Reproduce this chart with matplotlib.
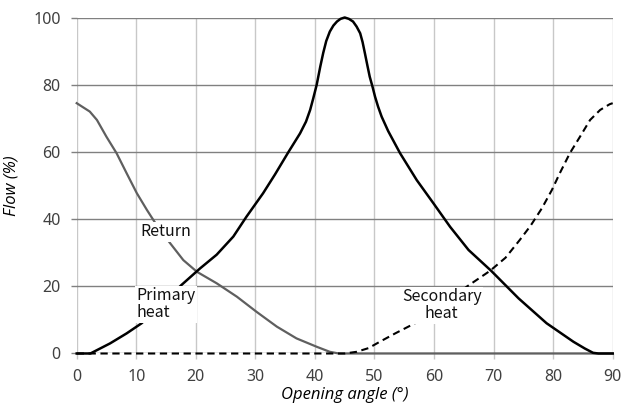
import matplotlib
matplotlib.use("Agg")
import matplotlib.pyplot as plt

# Flow through the valve ports versus opening angle
angle_primary = [0, 2.3, 5.6, 8.4, 10.9, 14.2, 17.6, 20.7, 23.5, 26.3, 28.5, 31.3, 33.3, 35.5,
                 37.5, 38.5, 39.2, 39.7, 40.3, 40.9, 41.4, 41.9, 42.5, 43.1, 43.7, 44.3, 45.0,
                 45.7, 46.4, 47.0, 47.6, 48.0, 48.4, 48.8, 49.2, 49.7, 50.1, 50.6, 51.2, 52.3,
                 54.3, 57.1, 59.9, 62.7, 65.8, 69.6, 74.2, 78.9, 83.4, 85.3, 86.7, 87.6, 90]
flow_primary = [0, 0, 3.0, 6.0, 9.0, 14.5, 20.4, 25.3, 29.4, 34.8, 40.7, 47.7, 53.3, 59.8,
                65.5, 69.0, 72.5, 75.8, 80.0, 85.4, 89.5, 93.0, 95.8, 97.6, 98.8, 99.6, 100,
                99.6, 98.8, 97.3, 95.3, 92.7, 89.3, 85.8, 82.4, 79.2, 76.4, 73.5, 70.5, 66.2,
                59.6, 51.6, 44.7, 37.7, 30.8, 24.6, 16.4, 9.0, 3.5, 1.5, 0.2, 0, 0]

angle_return = [0, 2.2, 3.4, 5.0, 6.7, 8.4, 10.1, 11.8, 13.5, 15.7, 17.9, 20.2, 23.5, 26.9,
                30.2, 33.6, 36.9, 40.3, 42.5, 44.0, 90]
flow_return = [74.5, 72.0, 69.5, 64.5, 59.6, 53.6, 47.7, 42.7, 38.0, 32.8, 27.8, 24.3, 20.9,
               16.9, 12.4, 8.0, 4.5, 2.0, 0.5, 0, 0]

angle_secondary = [0, 45.0, 47.0, 49.0, 50.9, 53.5, 56.8, 59.5, 62.5, 65.5, 69.4, 72.0, 74.4,
                   76.2, 78.1, 79.8, 81.1, 82.8, 84.5, 86.2, 87.9, 89.5, 90]
flow_secondary = [0, 0, 0.5, 1.6, 3.5, 6.0, 9.0, 12.3, 16.0, 19.9, 24.6, 28.5, 33.8, 38.0,
                  43.2, 48.7, 53.6, 59.6, 64.5, 69.5, 72.5, 74.2, 74.5]

x_ticks = [0, 10, 20, 30, 40, 50, 60, 70, 80, 90]
y_ticks = [0, 20, 40, 60, 80, 100]

fig = plt.figure(figsize=(6.24, 4.08), dpi=100)
ax = fig.add_axes([0.1229, 0.1336, 0.859, 0.8235])

ax.plot(angle_return, flow_return, color="#5f5f5f", lw=1.6, zorder=3, clip_on=False)
ax.plot(angle_primary, flow_primary, color="black", lw=1.8, zorder=4, clip_on=False)
ax.plot(angle_secondary, flow_secondary, color="black", lw=1.5, ls=(0, (3.5, 2.2)),
        zorder=4, clip_on=False)

ax.set_xlim(0, 90)
ax.set_ylim(0, 100)
ax.set_xticks(x_ticks)
ax.set_yticks(y_ticks)
ax.tick_params(length=4.5, width=1.0, labelsize=11.5, labelcolor="#404040", pad=7)
ax.tick_params(axis="x", color="#c8c8c8")
ax.tick_params(axis="y", color="#808080")
for lab in ax.get_xticklabels() + ax.get_yticklabels():
    lab.set_fontfamily("Noto Sans")

# vertical grid lighter than horizontal
ax.xaxis.grid(True, color="#c8c8c8", lw=1.0)
ax.yaxis.grid(True, color="#808080", lw=1.0)
ax.set_axisbelow(True)
for s in ax.spines.values():
    s.set_visible(False)

ax.set_xlabel("Opening angle (°)", fontsize=12, style="italic", family="Open Sans", labelpad=1)
ax.set_ylabel("Flow (%)", fontsize=12, style="italic", family="Open Sans", labelpad=10)

box = dict(facecolor="white", edgecolor="none", pad=1.0)
ax.text(14.9, 36.2, "Return", fontsize=11.5, ha="center", va="center",
        family="Noto Sans CJK KR", color="#111111", bbox=box, zorder=5)
ax.text(10, 14.7, "Primary\nheat", fontsize=11.5, ha="left", va="center", linespacing=1.0,
        family="Noto Sans CJK KR", color="#111111", bbox=box, zorder=5)
ax.text(61.3, 14.4, "Secondary\nheat", fontsize=11.5, ha="center", va="center", linespacing=1.0,
        family="Noto Sans CJK KR", color="#111111", bbox=box, zorder=5)

fig.savefig("out.png", dpi=100)
